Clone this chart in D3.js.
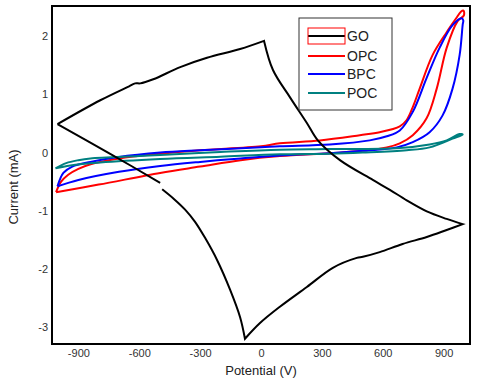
<!DOCTYPE html>
<html>
<head>
<meta charset="utf-8">
<script src="https://cdn.jsdelivr.net/npm/d3@7"></script>
<style>
  body { margin: 0; background: #fff; }
  text { font-family: "Liberation Sans", Arial, sans-serif; }
</style>
</head>
<body>
<div id="figure-container"></div>
<script>
// tick values
var xTicks = [-900, -600, -300, 0, 300, 600, 900];
var yTicks = [-3, -2, -1, 0, 1, 2];

var seriesNames = ['GO', 'OPC', 'BPC', 'POC'];
var seriesColors = ['#000000', '#ff0000', '#0000ff', '#008080'];

// [potential (V), current (mA)], in sweep order.
// GO is kept as branches so the sharp vertices stay sharp
var goUpper = [
  [-1003, 0.49], [-792, 0.90], [-650, 1.14], [-620, 1.19], [-595, 1.19], [-531, 1.26],
  [-398, 1.47], [-266, 1.63], [-103, 1.78], [15, 1.92]
];
var goDrop = [
  [15, 1.92], [59, 1.42], [143, 0.95], [226, 0.51], [280, 0.21], [389, -0.13],
  [551, -0.47], [635, -0.64], [718, -0.82], [817, -1.01], [915, -1.14], [994, -1.23]
];
var goLower = [
  [994, -1.23], [915, -1.33], [817, -1.45], [698, -1.57], [585, -1.71], [502, -1.79],
  [472, -1.81], [354, -1.98], [226, -2.31], [93, -2.65], [-5, -2.93], [-79, -3.2]
];
var goRise = [
  [-79, -3.2], [-103, -2.83], [-152, -2.36], [-216, -1.85], [-275, -1.47],
  [-325, -1.19], [-374, -0.98], [-428, -0.8], [-487, -0.63]
];
var goLeft = [
  [-497, -0.52], [-728, -0.05], [-1003, 0.49]
];

var opcData = [
  [-1010, -0.68], [-985, -0.5], [-950, -0.38], [-900, -0.28], [-840, -0.2],
  [-700, -0.1], [-500, -0.02], [-300, 0.04], [0, 0.11], [93, 0.16], [290, 0.21],
  [487, 0.3], [585, 0.35], [684, 0.45], [718, 0.56], [750, 0.8], [782, 1.1],
  [846, 1.68], [915, 2.07], [960, 2.3], [985, 2.42], [998, 2.44], [1000, 2.36],
  [969, 2.26], [915, 1.8], [866, 1.1], [816, 0.59], [748, 0.3], [684, 0.16],
  [620, 0.09], [500, 0.03], [339, -0.01], [93, -0.06], [-100, -0.13],
  [-300, -0.24], [-497, -0.35], [-800, -0.55], [-1010, -0.68]
];

var bpcData = [
  [-1003, -0.58], [-974, -0.35], [-930, -0.24], [-841, -0.16], [-708, -0.08],
  [-497, 0.0], [-300, 0.04], [0, 0.09], [93, 0.11], [339, 0.14], [536, 0.21],
  [620, 0.28], [684, 0.38], [748, 0.7], [816, 1.28], [880, 1.8], [944, 2.19],
  [989, 2.31], [997, 2.27], [994, 2.2], [979, 1.68], [944, 1.1], [895, 0.64],
  [831, 0.35], [748, 0.18], [669, 0.09], [500, 0.03], [339, -0.01], [93, -0.05],
  [-100, -0.1], [-300, -0.16], [-497, -0.23], [-700, -0.33], [-900, -0.47],
  [-1003, -0.58]
];

var pocData = [
  [-1013, -0.27], [-960, -0.18], [-900, -0.13], [-841, -0.1], [-600, -0.06],
  [-497, -0.04], [-200, 0.01], [93, 0.05], [339, 0.06], [684, 0.08],
  [831, 0.14], [915, 0.21], [979, 0.32], [994, 0.31], [944, 0.24],
  [831, 0.09], [718, 0.04], [500, 0.0], [339, -0.02], [93, -0.03],
  [-200, -0.07], [-497, -0.11], [-792, -0.17], [-940, -0.22], [-1013, -0.27]
];

var margin = {top: 6, right: 10, bottom: 36, left: 52};
var fullWidth = 480, fullHeight = 380;
var width = fullWidth - margin.left - margin.right;
var height = fullHeight - margin.top - margin.bottom;

var xScale = d3.scaleLinear().domain([-1030, 1030]).range([0, width]);
var yScale = d3.scaleLinear().domain([-3.29, 2.52]).range([height, 0]);

var svg = d3.select('#figure-container')
  .append('svg')
  .attr('width', fullWidth)
  .attr('height', fullHeight)
  .append('g')
  .attr('transform', `translate(${margin.left},${margin.top})`);

// axes: labels only, no tick marks, plain hyphen minus
var xAxis = d3.axisBottom(xScale).tickValues(xTicks).tickSize(0).tickPadding(5)
  .tickFormat(d => String(d));
var yAxis = d3.axisLeft(yScale).tickValues(yTicks).tickSize(0).tickPadding(4)
  .tickFormat(d => String(d));

svg.append('g')
  .attr('transform', `translate(0,${height})`)
  .call(xAxis)
  .call(g => g.select('.domain').remove())
  .selectAll('text').attr('font-size', 11).attr('fill', '#333')
  .attr('font-family', '"Liberation Sans", Arial, sans-serif');

svg.append('g')
  .call(yAxis)
  .call(g => g.select('.domain').remove())
  .selectAll('text').attr('font-size', 11).attr('fill', '#333')
  .attr('font-family', '"Liberation Sans", Arial, sans-serif');

var smooth = d3.line()
  .x(d => xScale(d[0]))
  .y(d => yScale(d[1]))
  .curve(d3.curveCatmullRom.alpha(0.5));

var cvData = [opcData, bpcData, pocData];
svg.selectAll('.cv')
  .data(cvData)
  .enter()
  .append('path')
  .attr('class', 'cv')
  .attr('d', smooth)
  .attr('fill', 'none')
  .attr('stroke', (d, i) => seriesColors[i + 1])
  .attr('stroke-width', 2);

// GO: join branches into one path (M -> L on continuing branches)
var goPath = smooth(goUpper) +
  smooth(goDrop).replace(/^M/, 'L') +
  smooth(goLower).replace(/^M/, 'L') +
  smooth(goRise).replace(/^M/, 'L') +
  smooth(goLeft);

svg.append('path')
  .attr('d', goPath)
  .attr('fill', 'none')
  .attr('stroke', seriesColors[0])
  .attr('stroke-width', 2)
  .attr('stroke-linejoin', 'miter');

// frame
svg.append('rect')
  .attr('width', width)
  .attr('height', height)
  .attr('fill', 'none')
  .attr('stroke', '#000')
  .attr('stroke-width', 2);

// axis titles
svg.append('text')
  .attr('x', xScale(0))
  .attr('y', height + 31)
  .attr('text-anchor', 'middle')
  .attr('font-size', 13)
  .attr('fill', '#222')
  .text('Potential (V)');

svg.append('text')
  .attr('transform', `translate(${-34},${181}) rotate(-90)`)
  .attr('text-anchor', 'middle')
  .attr('font-size', 13)
  .attr('fill', '#222')
  .text('Current (mA)');

// legend
var legend = svg.append('g')
  .attr('transform', `translate(${299 - margin.left},${18 - margin.top})`);

legend.append('rect')
  .attr('width', 93)
  .attr('height', 92)
  .attr('fill', '#fff')
  .attr('stroke', '#333')
  .attr('stroke-width', 1);

var rowY = [18, 38, 56, 75];
var items = legend.selectAll('.item')
  .data(seriesNames)
  .enter()
  .append('g')
  .attr('class', 'item')
  .attr('transform', (d, i) => `translate(0,${rowY[i]})`);

legend.append('rect')
  .attr('x', 9)
  .attr('y', rowY[0] - 8)
  .attr('width', 37)
  .attr('height', 16)
  .attr('fill', 'none')
  .attr('stroke', '#ff0000')
  .attr('stroke-width', 1);

items.append('line')
  .attr('x1', 9)
  .attr('x2', 46)
  .attr('stroke', (d, i) => seriesColors[i])
  .attr('stroke-width', 2);

items.append('text')
  .attr('x', 48)
  .attr('dy', '0.36em')
  .attr('font-size', 14)
  .attr('fill', '#222')
  .text(d => d);
</script>
</body>
</html>
